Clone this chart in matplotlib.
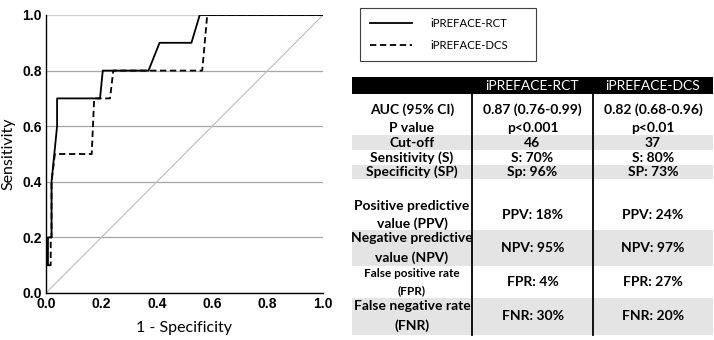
import matplotlib
matplotlib.use("Agg")
import matplotlib.pyplot as plt
from matplotlib.patches import Rectangle

# ROC curves: x = 1 - specificity, y = sensitivity
rct_x = [0, 0, 0.007, 0.007, 0.02, 0.02, 0.03, 0.04, 0.04, 0.195, 0.205, 0.37, 0.41, 0.525, 0.555, 1.0]
rct_y = [0, 0.1, 0.1, 0.2, 0.2, 0.4, 0.5, 0.6, 0.7, 0.7, 0.8, 0.8, 0.9, 0.9, 1.0, 1.0]
dcs_x = [0, 0, 0.017, 0.017, 0.02, 0.02, 0.032, 0.165, 0.174, 0.231, 0.243, 0.564, 0.582, 1.0]
dcs_y = [0, 0.1, 0.1, 0.2, 0.2, 0.4, 0.5, 0.5, 0.7, 0.7, 0.8, 0.8, 1.0, 1.0]

series_names = ["iPREFACE-RCT", "iPREFACE-DCS"]
ticks = [0.0, 0.2, 0.4, 0.6, 0.8, 1.0]
tick_labels = ["0.0", "0.2", "0.4", "0.6", "0.8", "1.0"]

row_labels = ["AUC (95% CI)\nP value", "Cut-off", "Sensitivity (S)", "Specificity (SP)",
              "Positive predictive\nvalue (PPV)", "Negative predictive\nvalue (NPV)",
              "False positive rate\n(FPR)", "False negative rate\n(FNR)"]
rct_vals = ["0.87 (0.76-0.99)\np<0.001", "46", "S: 70%", "Sp: 96%",
            "PPV: 18%", "NPV: 95%", "FPR: 4%", "FNR: 30%"]
dcs_vals = ["0.82 (0.68-0.96)\np<0.01", "37", "S: 80%", "SP: 73%",
            "PPV: 24%", "NPV: 97%", "FPR: 27%", "FNR: 20%"]

plt.rcParams['font.family'] = ['Lato', 'DejaVu Sans']

W, H = 714, 340
fig = plt.figure(figsize=(W / 100, H / 100), dpi=100)

# ROC panel
ax = fig.add_axes([46 / W, 1 - 293 / H, 277 / W, 278 / H])
ax.plot([0, 1], [0, 1], color='#bdbdbd', lw=0.8, zorder=1)
l1, = ax.plot(rct_x, rct_y, color='black', lw=1.3, zorder=3)
l2, = ax.plot(dcs_x, dcs_y, color='black', lw=1.3, ls=(0, (3.5, 2)), zorder=3)
ax.set_xlim(0, 1)
ax.set_ylim(0, 1)
ax.set_xticks(ticks)
ax.set_xticklabels(tick_labels)
ax.set_yticks(ticks)
ax.set_yticklabels(tick_labels)
ax.yaxis.grid(True, color='#a6a6a6', lw=0.9, zorder=0)
ax.get_ygridlines()[-1].set_color('#d0d0d0')
ax.set_axisbelow(True)
ax.tick_params(length=0, pad=3)
plt.setp(ax.get_xticklabels() + ax.get_yticklabels(), fontsize=10,
         fontweight='bold', family='Liberation Sans')
for s in ['top', 'right']:
    ax.spines[s].set_visible(False)
for s in ['left', 'bottom']:
    ax.spines[s].set_color('black')
    ax.spines[s].set_linewidth(1.0)
ax.set_xlabel('1 - Specificity', fontsize=11.5, labelpad=7)
ax.set_ylabel('Sensitivity', fontsize=11.5, labelpad=5)

# legend box top right of the curves
leg = fig.legend([l1, l2], series_names, loc='upper left',
                 bbox_to_anchor=(354 / W, 1 - 59 / H, 188 / W, 57 / H), mode='expand',
                 fontsize=8.2, handlelength=3.7, handletextpad=1.6, labelspacing=0.95,
                 borderpad=0.9, fancybox=False, framealpha=1)
leg.get_frame().set_edgecolor('#404040')
leg.get_frame().set_linewidth(0.8)

# table drawn in pixel coordinates
tax = fig.add_axes([0, 0, 1, 1])
tax.set_xlim(0, W)
tax.set_ylim(H, 0)
tax.axis('off')
tax.patch.set_visible(False)

col_edges = [352, 472, 593, 713]
row_tops = [94, 135, 150, 165, 179, 230, 266, 298]
row_bots = [135, 150, 165, 179, 230, 266, 298, 335]
text_y = [118.5, 143, 158, 172, 215, 248, 282, 316]
label_sizes = [10, 10, 10, 10, 10, 10, 8.5, 10]

tax.add_patch(Rectangle((col_edges[0], 77), col_edges[-1] - col_edges[0], 17,
                        color='black', lw=0))
for j, name in enumerate(series_names):
    xc = (col_edges[j + 1] + col_edges[j + 2]) / 2
    tax.text(xc, 86, name, color='white', fontsize=10, ha='center', va='center')

for i in range(len(row_labels)):
    if i % 2 == 1:
        tax.add_patch(Rectangle((col_edges[0], row_tops[i]), col_edges[-1] - col_edges[0],
                                row_bots[i] - row_tops[i], color='#e4e4e4', lw=0))
    cells = [row_labels[i], rct_vals[i], dcs_vals[i]]
    for j, txt in enumerate(cells):
        xc = (col_edges[j] + col_edges[j + 1]) / 2
        fs = label_sizes[i] if j == 0 else 10
        tax.text(xc, text_y[i], txt, fontsize=fs, fontweight='bold', ha='center',
                 va='center', multialignment='center', linespacing=1.6)

for x in col_edges[1:3]:
    tax.plot([x, x], [94, 335], color='black', lw=1.3)

fig.savefig('out.png', dpi=100)
